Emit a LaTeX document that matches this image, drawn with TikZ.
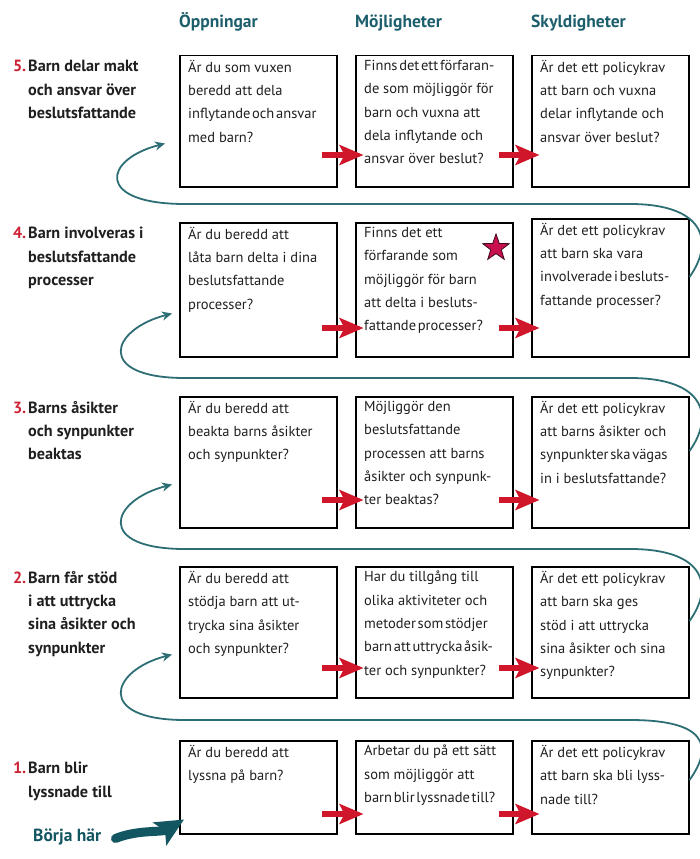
\documentclass[tikz,border=0pt]{standalone}
\usepackage{fontspec}
\setmainfont{PT Sans}
\usetikzlibrary{arrows.meta,shapes.geometric}
\definecolor{headteal}{RGB}{28,94,108}
\definecolor{lineteal}{RGB}{45,110,116}
\definecolor{goteal}{RGB}{18,86,98}
\definecolor{arrred}{RGB}{208,22,42}
\definecolor{numred}{RGB}{204,32,52}
\definecolor{starred}{RGB}{200,16,78}
\definecolor{stardark}{RGB}{60,12,24}
\newcommand{\nr}[1]{\leavevmode\llap{\textcolor{numred}{#1}\kern2pt}}
\newcommand{\tight}[1]{{\spaceskip=0.12em\relax#1}}

\begin{document}
\begin{tikzpicture}[x=1pt,y=-1pt]
\tikzstyle{qbox} = [draw, line width=1.5pt, anchor=north west, minimum width=157pt, inner sep=0pt]
\tikzstyle{cell} = [anchor=north west, align=left, inner xsep=9pt, inner ysep=5pt, font=\fontsize{14.5}{23.3}\selectfont, text=black!88, execute at begin node=\strut]
\tikzstyle{rowlbl} = [cell, inner xsep=0pt, font=\bfseries\fontsize{16.2}{23.3}\selectfont]
\tikzstyle{colhead} = [anchor=base west, inner sep=0pt, text=headteal, font=\bfseries\fontsize{17.5}{20}\selectfont]
\tikzstyle{redarr} = [draw=arrred, line width=6pt, -{Stealth[length=24pt,width=20pt,inset=5pt]}]
\tikzstyle{turnline} = [draw=lineteal, line width=1.8pt, -{Stealth[length=10pt,width=9pt]}]
\tikzstyle{startarr} = [draw=goteal, line width=9pt, line cap=round, -{Stealth[length=28pt,width=26pt,inset=6pt]}]
\useasboundingbox (0,0) rectangle (699,859);

% column heads
\node[colhead] (h1) at (179,28) {Öppningar};
\node[colhead] (h2) at (355,28) {Möjligheter};
\node[colhead] (h3) at (531,28) {Skyldigheter};

% row 5
\node[qbox, minimum height=131pt] (o5) at (179,55) {};
\node[qbox, minimum height=131pt] (m5) at (355,55) {};
\node[qbox, minimum height=131pt] (s5) at (531,55) {};
\node[rowlbl] (l5) at (28,55) {\nr{5.}Barn delar makt\\och ansvar över\\beslutsfattande};
\node[cell] (o5t) at (o5.north west) {Är du som vuxen\\beredd att dela\\\tight{inflytande och ansvar}\\med barn?};
\node[cell] (m5t) at (m5.north west) {\tight{Finns det ett förfaran-}\\de som möjliggör för\\barn och vuxna att\\dela inflytande och\\ansvar över beslut?};
\node[cell] (s5t) at (s5.north west) {Är det ett policykrav\\att barn och vuxna\\delar inflytande och\\ansvar över beslut?};

% row 4
\node[qbox, minimum height=134pt] (o4) at (179,222) {};
\node[qbox, minimum height=134pt] (m4) at (355,222) {};
\node[qbox, minimum height=138pt] (s4) at (531,218) {};
\node[rowlbl] (l4) at (28,222) {\nr{4.}Barn involveras i\\beslutsfattande\\processer};
\node[cell] (o4t) at (o4.north west) {Är du beredd att\\låta barn delta i dina\\beslutsfattande\\processer?};
\node[cell] (m4t) at (m4.north west) {Finns det ett\\förfarande som\\möjliggör för barn\\att delta i besluts-\\\tight{fattande processer?}};
\node[cell] (s4t) at (s4.north west) {Är det ett policykrav\\att barn ska vara\\\tight{involverade i besluts-}\\fattande processer?};
\node[star, star points=5, star point ratio=2.5, minimum size=28pt, inner sep=0pt, fill=starred, draw=stardark, line width=0.8pt] (stern) at (496,248) {};

% row 3
\node[qbox, minimum height=131pt] (o3) at (179,396) {};
\node[qbox, minimum height=131pt] (m3) at (355,396) {};
\node[qbox, minimum height=131pt] (s3) at (531,396) {};
\node[rowlbl] (l3) at (28,396) {\nr{3.}Barns åsikter\\och synpunkter\\beaktas};
\node[cell] (o3t) at (o3.north west) {Är du beredd att\\beakta barns åsikter\\och synpunkter?};
\node[cell] (m3t) at (m3.north west) {Möjliggör den\\beslutsfattande\\processen att barns\\åsikter och synpunk-\\ter beaktas?};
\node[cell] (s3t) at (s3.north west) {Är det ett policykrav\\att barns åsikter och\\\tight{synpunkter ska vägas}\\in i beslutsfattande?};

% row 2
\node[qbox, minimum height=131pt] (o2) at (179,566) {};
\node[qbox, minimum height=131pt] (m2) at (355,566) {};
\node[qbox, minimum height=131pt] (s2) at (531,566) {};
\node[rowlbl] (l2) at (28,566) {\nr{2.}Barn får stöd\\i att uttrycka\\sina åsikter och\\synpunkter};
\node[cell] (o2t) at (o2.north west) {Är du beredd att\\stödja barn att ut-\\trycka sina åsikter\\och synpunkter?};
\node[cell] (m2t) at (m2.north west) {Har du tillgång till\\olika aktiviteter och\\\tight{metoder som stödjer}\\\tight{barn att uttrycka åsik-}\\ter och synpunkter?};
\node[cell] (s2t) at (s2.north west) {Är det ett policykrav\\att barn ska ges\\stöd i att uttrycka\\sina åsikter och sina\\synpunkter?};

% row 1
\node[qbox, minimum height=93pt] (o1) at (179,740) {};
\node[qbox, minimum height=93pt] (m1) at (355,740) {};
\node[qbox, minimum height=93pt] (s1) at (531,740) {};
\node[rowlbl] (l1) at (28,757) {\nr{1.}Barn blir\\lyssnade till};
\node[cell] (o1t) at (o1.north west) {Är du beredd att\\lyssna på barn?};
\node[cell] (m1t) at (m1.north west) {Arbetar du på ett sätt\\som möjliggör att\\\tight{barn blir lyssnade till?}};
\node[cell] (s1t) at (s1.north west) {Är det ett policykrav\\att barn ska bli lyss-\\nade till?};

\node[colhead, text=goteal] (go) at (33,841) {Börja här};
\draw[startarr] ([shift={(14,2)}]go.east) .. controls +(22,-9) and +(-22,13) .. ([shift={(5,-15)}]o1.south west);

% red arrows along each row
\foreach \r/\y in {5/155,4/328,3/500,2/668,1/814}{
  \coordinate (y\r) at (0,\y);
  \draw[redarr] (o\r.east |- y\r) ++(-16,0) -- ++(42,0);
  \draw[redarr] (m\r.east |- y\r) ++(-15,0) -- ++(41,0);
}

% turns from one row up to the next
\foreach \lo/\hi/\L/\d/\tx in {4/5/204/59/-14,3/4/378/55/-7,2/3/549/55/-7,1/2/720/40/-7}
  \draw[turnline] ([shift={(0,\d)}]s\lo.north east) .. controls +(25,-35) and +(75,0) .. (630,\L)
    -- (185,\L) .. controls (95,\L) and +(-62,16) .. ([shift={(\tx,-44)}]o\hi.south west);
\end{tikzpicture}
\end{document}
